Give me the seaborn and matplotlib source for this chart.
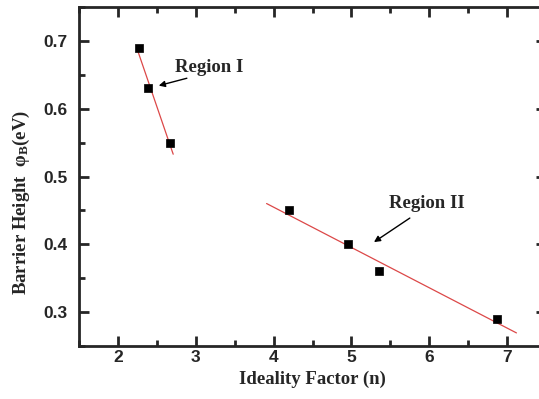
import numpy as np
import pandas as pd
import matplotlib
matplotlib.use('Agg')
import matplotlib.pyplot as plt
import seaborn as sns
from matplotlib.ticker import MultipleLocator

# Region I / Region II data
n_region1 = [2.27, 2.38, 2.67]
phi_region1 = [0.69, 0.63, 0.55]
n_region2 = [4.20, 4.95, 5.35, 6.87]
phi_region2 = [0.45, 0.40, 0.36, 0.29]
fit1_range = [2.25, 2.71]
fit2_range = [3.91, 7.12]

sns.set_style('ticks')
plt.rcParams['font.family'] = ['Liberation Sans', 'DejaVu Sans']
plt.rcParams['mathtext.fontset'] = 'custom'
plt.rcParams['mathtext.rm'] = 'Liberation Serif:bold'
plt.rcParams['mathtext.it'] = 'Liberation Serif:bold'
plt.rcParams['mathtext.bf'] = 'Liberation Serif:bold'

df = pd.DataFrame({'n': n_region1 + n_region2, 'phi': phi_region1 + phi_region2})

fig = plt.figure(figsize=(5.39, 3.99), dpi=100)
ax = fig.add_axes([0.1466, 0.1328, 0.8664, 0.8496])

# linear fits for each region
for xs, ys, rng in [(n_region1, phi_region1, fit1_range), (n_region2, phi_region2, fit2_range)]:
    k, b = np.polyfit(xs, ys, 1)
    xf = np.array(rng)
    sns.lineplot(x=xf, y=k * xf + b, ax=ax, color='#dc4848', lw=0.9)

sns.scatterplot(data=df, x='n', y='phi', ax=ax, marker='s', s=36, color='black',
                edgecolor='black', linewidth=0.5, zorder=3)

ax.set_xlim(1.5, 7.5)
ax.set_ylim(0.25, 0.75)
ax.xaxis.set_major_locator(MultipleLocator(1))
ax.xaxis.set_minor_locator(MultipleLocator(0.5))
ax.yaxis.set_major_locator(MultipleLocator(0.1))
ax.yaxis.set_minor_locator(MultipleLocator(0.05))
ax.tick_params(which='both', direction='in', top=True, right=True, width=2)
ax.tick_params(which='major', length=7.5, labelsize=12.5)
ax.tick_params(axis='x', which='major', pad=3)
ax.tick_params(axis='y', which='major', pad=8)
ax.tick_params(which='minor', length=4)
for lab in ax.get_xticklabels() + ax.get_yticklabels():
    lab.set_fontweight('bold')
for sp in ax.spines.values():
    sp.set_linewidth(2)
    sp.set_visible(True)

serif = dict(family='Liberation Serif', fontweight='bold', fontsize=13.5)
ax.set_xlabel('Ideality Factor (n)', labelpad=4, **serif)
ax.set_ylabel('Barrier Height  φ$_{B}$(eV)', **serif)
ax.yaxis.set_label_coords(-0.101, 0.425)

ax.text(3.17, 0.661, 'Region I', ha='center', va='center', **serif)
ax.text(5.97, 0.46, 'Region II', ha='center', va='center', **serif)
arrow = dict(arrowstyle='-|>', color='black', lw=1, mutation_scale=9)
ax.annotate('', xy=(2.49, 0.633), xytext=(2.92, 0.646), arrowprops=arrow)
ax.annotate('', xy=(5.26, 0.401), xytext=(5.78, 0.441), arrowprops=arrow)

fig.savefig('out.png', dpi=100)
